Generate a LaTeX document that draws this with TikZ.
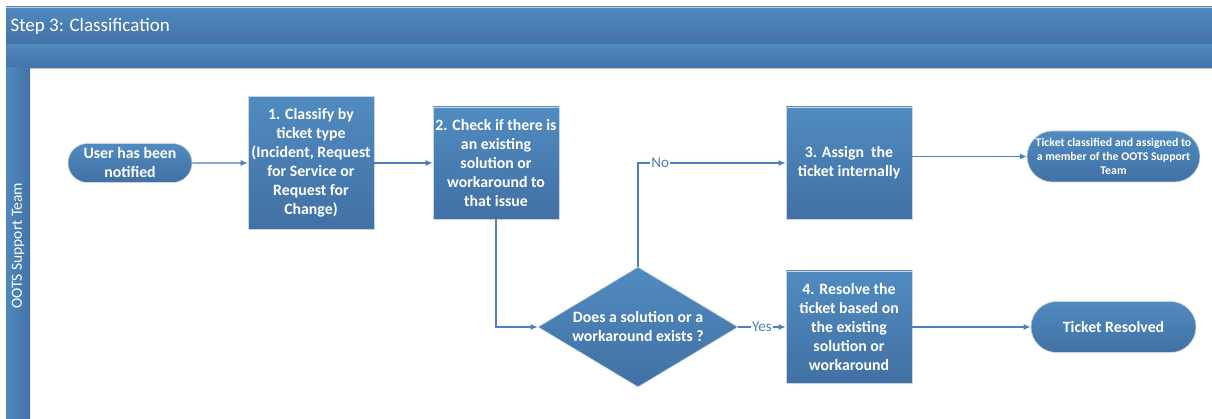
\documentclass[tikz,border=0pt]{standalone}
\usepackage{fontspec}
\setmainfont{Carlito}
\usetikzlibrary{shapes.geometric,shapes.misc,arrows.meta}

\definecolor{fillTop}{HTML}{508BC0}
\definecolor{fillBot}{HTML}{4270A4}
\definecolor{barTop}{HTML}{4F89BD}
\definecolor{barBot}{HTML}{4472A7}
\definecolor{flowBlue}{HTML}{4A80BE}
\definecolor{edgeGrey}{HTML}{C9D5E4}

\begin{document}
\begin{tikzpicture}[x=1pt,y=-1pt,
  stepbox/.style={draw=edgeGrey, line width=0.6pt, top color=fillTop, bottom color=fillBot,
    minimum width=126pt, minimum height=112pt, inner sep=1pt, align=center,
    text=white, font=\bfseries\fontsize{15.8}{19}\selectfont},
  pill/.style={rounded rectangle, draw=edgeGrey, line width=0.6pt, top color=fillTop,
    bottom color=fillBot, inner sep=1pt, align=center, text=white,
    font=\bfseries\fontsize{15.8}{19}\selectfont},
  decision/.style={diamond, draw=edgeGrey, line width=0.6pt, top color=fillTop,
    bottom color=fillBot, minimum width=200pt, minimum height=120pt, inner sep=0pt,
    aspect=1.67, align=center, text=white, font=\bfseries\fontsize{15.8}{19}\selectfont},
  flow/.style={draw=flowBlue, line width=1.2pt, -{Latex[length=7pt,width=6pt]}},
  choice/.style={fill=white, text=flowBlue, inner sep=1pt, font=\fontsize{15}{17}\selectfont}]
  \useasboundingbox (0,0) rectangle (1212,419);

  % pool header and lane
  \shade[top color=barTop, bottom color=barBot] (6,7) rectangle (1213,45);
  \shade[top color=barTop, bottom color=barBot] (6,45) rectangle (1213,68);
  \draw[gray!45, line width=0.8pt] (6,7) -- (1213,7) (6,68) -- (1213,68);
  \shade[left color=barTop, right color=barBot] (6,68) rectangle (30,420);
  \node[anchor=west, text=white, font=\fontsize{19}{22}\selectfont] (title) at (7,26) {Step 3: Classification};
  \node[rotate=90, text=white, font=\fontsize{15.5}{18}\selectfont] (lane) at (18,246) {OOTS Support Team};

  % steps
  \node[pill, minimum width=126pt, minimum height=39pt] (user) at (130,163) {User has been\\notified};
  \node[stepbox, minimum height=133pt] (classify) at (311,163) {1. Classify by\\ticket type\\(Incident, Request\\for Service or\\Request for\\Change)};
  \node[stepbox] (check) at (496,163) {2. Check if there is\\an existing\\solution or\\workaround to\\that issue};
  \node[decision] (exists) at (638,327) {Does a solution or a\\workaround exists ?};
  \node[stepbox] (assign) at (849,163) {3. Assign\ \ the\\ticket internally};
  \node[stepbox] (resolve) at (849,327) {4. Resolve the\\ticket based on\\the existing\\solution or\\workaround};
  \node[pill, minimum width=167pt, minimum height=51pt, font=\bfseries\fontsize{11.8}{14}\selectfont] (assigned) at (1113.5,156.5) {Ticket classified and assigned to\\a member of the OOTS Support\\Team};
  \node[pill, minimum width=167pt, minimum height=51pt] (resolved) at (1113.5,327) {Ticket Resolved};

  % connectors
  \draw[flow] (user) -- (classify);
  \draw[flow] (classify) -- (check);
  \draw[flow] (check.south) |- (exists.west);
  \draw[flow] (exists.north) |- node[choice, pos=0.575] {No} (assign.west);
  \draw[flow] (exists.east) -- node[choice] {Yes} (resolve.west);
  \draw[flow] (assign.east |- assigned) -- (assigned.west);
  \draw[flow] (resolve) -- (resolved);
\end{tikzpicture}
\end{document}
